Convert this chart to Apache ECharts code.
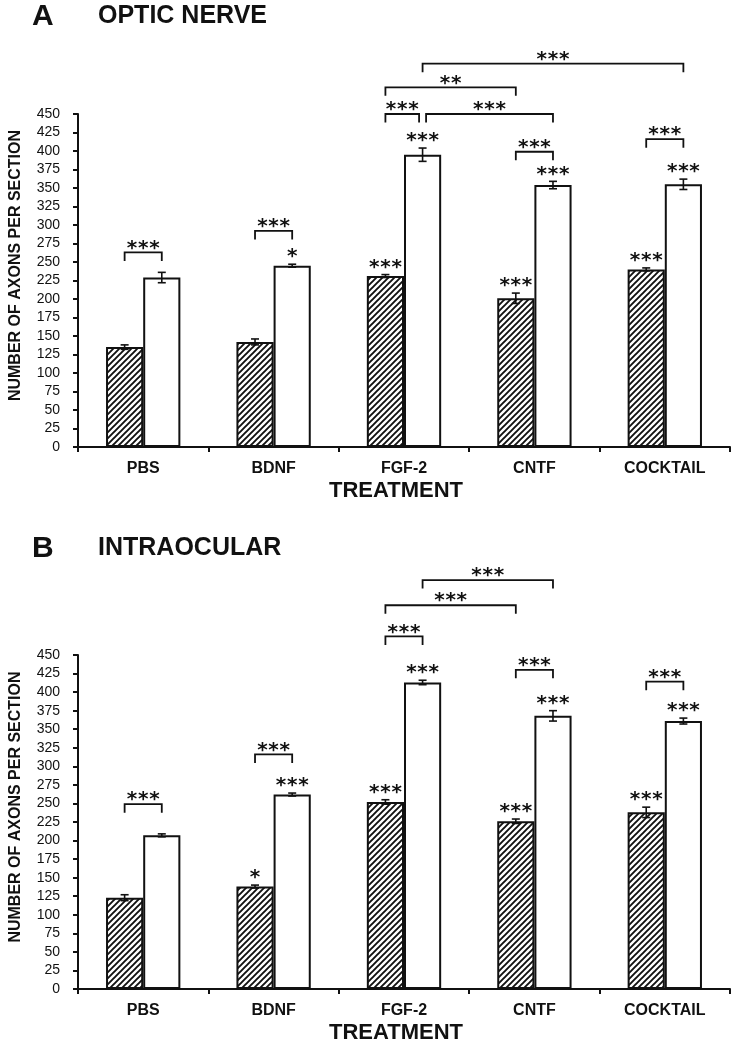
<!DOCTYPE html>
<html><head><meta charset="utf-8">
<script src="https://cdn.jsdelivr.net/npm/echarts@6/dist/echarts.min.js"></script>
<style>html,body{margin:0;padding:0;background:#fff}#c{width:735px;height:1050px}</style>
</head><body><div id="c"></div>
<script>
// ---------- DATA ----------
const categories = ['PBS', 'BDNF', 'FGF-2', 'CNTF', 'COCKTAIL'];
const yMin = 0, yMax = 450, yStep = 25;

// Panel A: optic nerve
const aHatched    = [135, 142, 231, 201, 240];
const aHatchedErr = [3, 4, 2, 7, 2];
const aWhite      = [229, 245, 395, 354, 355];
const aWhiteErr   = [7, 2, 9, 5, 7];
const aHatchedSig = ['', '', '***', '***', '***'];
const aWhiteSig   = ['', '*', '***', '***', '***'];
// [fromCat, fromSeries, toCat, toSeries, level, label]
const aBrackets = [
  [0, 0, 0, 1, 263, '***'],
  [1, 0, 1, 1, 292, '***'],
  [2, 0, 2, 1, 450, '***'],
  [2, 1, 3, 1, 450, '***'],
  [2, 0, 3, 0, 486, '**'],
  [2, 1, 4, 1, 518, '***'],
  [3, 0, 3, 1, 399, '***'],
  [4, 0, 4, 1, 416, '***']
];

// Panel B: intraocular
const bHatched    = [123, 138, 252, 226, 238];
const bHatchedErr = [4, 2, 3, 3, 7];
const bWhite      = [207, 262, 413, 368, 361];
const bWhiteErr   = [2, 2, 3, 7, 4];
const bHatchedSig = ['', '*', '***', '***', '***'];
const bWhiteSig   = ['', '***', '***', '***', '***'];
const bBrackets = [
  [0, 0, 0, 1, 249, '***'],
  [1, 0, 1, 1, 316, '***'],
  [2, 0, 2, 1, 475, '***'],
  [2, 0, 3, 0, 517, '***'],
  [2, 1, 3, 1, 551, '***'],
  [3, 0, 3, 1, 430, '***'],
  [4, 0, 4, 1, 414, '***']
];

// ---------- STYLE ----------
const BAR_FRAC = 0.285;
const INK = '#111';
const FONT = '"Liberation Sans", Arial, sans-serif';

function hatchCanvas() {
  const s = 6;
  const c = document.createElement('canvas');
  c.width = s; c.height = s;
  const g = c.getContext('2d');
  g.fillStyle = '#fff'; g.fillRect(0, 0, s, s);
  g.strokeStyle = '#111'; g.lineWidth = 1.9; g.lineCap = 'square';
  g.beginPath();
  g.moveTo(-1, s + 1); g.lineTo(s + 1, -1);
  g.moveTo(-2, 2); g.lineTo(2, -2);
  g.moveTo(s - 2, s + 2); g.lineTo(s + 2, s - 2);
  g.stroke();
  return c;
}
const hatch = { image: hatchCanvas(), repeat: 'repeat' };

function starEls(label, cx, cy) {
  const n = label.length, pitch = 11.2;
  const els = [];
  for (let k = 0; k < n; k++) {
    els.push({
      type: 'text',
      style: {
        text: '*', x: cx + (k - (n - 1) / 2) * pitch, y: cy + 4,
        align: 'center', verticalAlign: 'middle',
        font: 'bold 20px "DejaVu Sans", sans-serif', fill: INK
      }
    });
  }
  return els;
}

function errRender(errs, sigs, ser) {
  return function (params, api) {
    const i = api.value(0), v = api.value(1), e = errs[params.dataIndex];
    const band = api.size([1, 0])[0], bw = band * BAR_FRAC;
    const x = api.coord([i, v])[0] + (ser === 0 ? -bw / 2 : bw / 2);
    const yt = api.coord([i, v + e])[1], yb = api.coord([i, v - e])[1];
    const cap = 4;
    const ls = { stroke: INK, lineWidth: 1.6 };
    const ch = [
      { type: 'line', shape: { x1: x, y1: yt, x2: x, y2: yb }, style: ls },
      { type: 'line', shape: { x1: x - cap, y1: yt, x2: x + cap, y2: yt }, style: ls },
      { type: 'line', shape: { x1: x - cap, y1: yb, x2: x + cap, y2: yb }, style: ls }
    ];
    const s = sigs[params.dataIndex];
    if (s) ch.push(...starEls(s, x, yt - 11));
    return { type: 'group', children: ch };
  };
}

function bracketRender(brs) {
  return function (params, api) {
    const b = brs[params.dataIndex];
    const band = api.size([1, 0])[0], bw = band * BAR_FRAC;
    const xOf = (cat, ser) => api.coord([cat, 0])[0] + (ser === 0 ? -bw / 2 : bw / 2);
    let x1 = xOf(b[0], b[1]), x2 = xOf(b[2], b[3]);
    // small gap where two brackets at the same level share an end
    brs.forEach((o, j) => {
      if (j === params.dataIndex || o[4] !== b[4]) return;
      if (o[0] === b[2] && o[1] === b[3]) x2 -= 3.5;
      if (o[2] === b[0] && o[3] === b[1]) x1 += 3.5;
    });
    const y = api.coord([b[0], b[4]])[1];
    const drop = 8.5;
    const ch = [{
      type: 'polyline',
      shape: { points: [[x1, y + drop], [x1, y], [x2, y], [x2, y + drop]] },
      style: { stroke: INK, lineWidth: 1.8, fill: null }
    }];
    ch.push(...starEls(b[5], (x1 + x2) / 2, y - 8));
    return { type: 'group', children: ch };
  };
}

function xAxisCfg(gi) {
  return {
    type: 'category', gridIndex: gi, data: categories,
    name: 'TREATMENT', nameLocation: 'middle', nameGap: 33,
    nameTextStyle: { fontFamily: FONT, fontWeight: 'bold', fontSize: 22, color: INK, padding: [0, 16, 0, 0] },
    axisLine: { lineStyle: { color: INK, width: 2 } },
    axisTick: { show: true, length: 5, lineStyle: { color: INK, width: 2 } },
    axisLabel: { fontFamily: FONT, fontWeight: 'bold', fontSize: 16, color: INK, margin: 14 },
    splitLine: { show: false }
  };
}
function yAxisCfg(gi) {
  return {
    type: 'value', gridIndex: gi, min: yMin, max: yMax, interval: yStep,
    name: 'NUMBER OF AXONS PER SECTION', nameLocation: 'middle', nameGap: 54,
    nameTextStyle: { fontFamily: FONT, fontWeight: 'bold', fontSize: 16, color: INK, padding: [0, 0, 0, 30] },
    axisLine: { show: true, lineStyle: { color: INK, width: 2 } },
    axisTick: { show: true, length: 5, lineStyle: { color: INK, width: 2 } },
    axisLabel: { fontFamily: FONT, fontSize: 14, color: INK, margin: 18 },
    splitLine: { show: false }
  };
}

function panelSeries(gi, hat, hatErr, wht, whtErr, hatSig, whtSig, brs) {
  const barBase = {
    type: 'bar', xAxisIndex: gi, yAxisIndex: gi, barWidth: (BAR_FRAC * 100) + '%', barGap: '0%',
    animation: false, silent: true
  };
  return [
    Object.assign({}, barBase, { data: hat, itemStyle: { color: hatch, borderColor: INK, borderWidth: 2 } }),
    Object.assign({}, barBase, { data: wht, itemStyle: { color: '#fff', borderColor: INK, borderWidth: 2 } }),
    { type: 'custom', xAxisIndex: gi, yAxisIndex: gi, clip: false, silent: true, animation: false, z: 5,
      renderItem: errRender(hatErr, hatSig, 0), encode: { x: 0, y: 1 },
      data: hat.map((v, i) => [i, v]) },
    { type: 'custom', xAxisIndex: gi, yAxisIndex: gi, clip: false, silent: true, animation: false, z: 5,
      renderItem: errRender(whtErr, whtSig, 1), encode: { x: 0, y: 1 },
      data: wht.map((v, i) => [i, v]) },
    { type: 'custom', xAxisIndex: gi, yAxisIndex: gi, clip: false, silent: true, animation: false, z: 5,
      renderItem: bracketRender(brs), encode: { x: 0, y: 1 },
      data: brs.map(b => [b[0], Math.min(b[4], yMax)]) }
  ];
}

const chart = echarts.init(document.getElementById('c'), null, { renderer: 'canvas' });
chart.setOption({
  backgroundColor: '#fff',
  animation: false,
  grid: [
    { left: 78, right: 5, top: 114, height: 333, containLabel: false, outerBoundsMode: 'none' },
    { left: 78, right: 5, top: 655, height: 334, containLabel: false, outerBoundsMode: 'none' }
  ],
  xAxis: [xAxisCfg(0), xAxisCfg(1)],
  yAxis: [yAxisCfg(0), yAxisCfg(1)],
  graphic: [
    { type: 'text', left: 32, top: 2, style: { text: 'A', font: 'bold 30px ' + FONT, fill: INK } },
    { type: 'text', left: 98, top: 4, style: { text: 'OPTIC NERVE', font: 'bold 25px ' + FONT, fill: INK } },
    { type: 'text', left: 32, top: 534, style: { text: 'B', font: 'bold 30px ' + FONT, fill: INK } },
    { type: 'text', left: 98, top: 536, style: { text: 'INTRAOCULAR', font: 'bold 25px ' + FONT, fill: INK } }
  ],
  series: [].concat(
    panelSeries(0, aHatched, aHatchedErr, aWhite, aWhiteErr, aHatchedSig, aWhiteSig, aBrackets),
    panelSeries(1, bHatched, bHatchedErr, bWhite, bWhiteErr, bHatchedSig, bWhiteSig, bBrackets)
  )
});
</script>
</body></html>
